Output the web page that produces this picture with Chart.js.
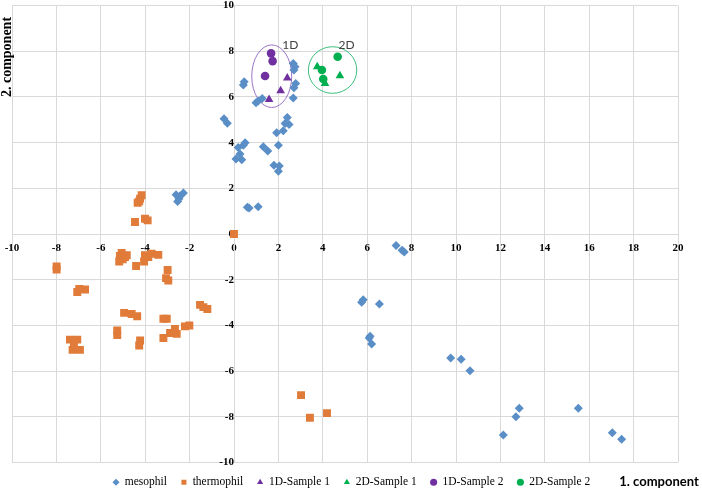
<!DOCTYPE html>
<html>
<head>
<meta charset="utf-8">
<script src="https://cdn.jsdelivr.net/npm/chart.js@4.4.1/dist/chart.umd.min.js"></script>
<style>
  html, body { margin: 0; padding: 0; background: #fff; }
  #wrap { width: 702px; height: 489px; }
</style>
</head>
<body>
<div id="wrap"><canvas id="grafico"></canvas></div>
<script>
// valores (x = 1. component, y = 2. component)
const mesophil = [
  [2.67,7.47],[2.75,7.32],[2.70,7.18],[2.78,6.59],[2.70,6.40],[2.67,5.96],
  [0.46,6.67],[0.42,6.52],[0.99,5.75],[1.09,5.82],[1.27,5.93],
  [2.40,5.10],[2.30,4.84],[2.48,4.79],[2.22,4.52],[1.92,4.43],[2.00,3.89],
  [1.32,3.82],[1.52,3.63],[0.50,4.00],[0.42,3.89],[0.19,3.79],[0.27,3.50],
  [0.09,3.28],[0.35,3.25],[1.80,3.01],[2.04,2.98],[2.00,2.75],
  [0.60,1.17],[0.68,1.14],[1.09,1.20],[-0.45,5.05],[-0.30,4.85],
  [-2.61,1.72],[-2.43,1.67],[-2.28,1.80],[-2.54,1.43],[-2.48,1.55],
  [7.30,-0.50],[7.57,-0.71],[7.67,-0.79],[5.82,-2.88],[5.75,-2.98],[6.55,-3.06],
  [6.13,-4.47],[6.09,-4.55],[6.20,-4.81],[9.76,-5.43],[10.23,-5.48],[10.63,-5.98],
  [12.85,-7.62],[12.70,-8.00],[12.13,-8.80],[15.51,-7.62],[17.04,-8.70],[17.46,-8.98]
];
const thermophil = [
  [-4.16,1.70],[-4.23,1.55],[-4.34,1.37],[-4.27,1.43],[-4.46,0.53],[-4.01,0.67],[-3.89,0.60],
  [0.00,0.00],[-7.99,-1.42],[-7.99,-1.55],[-6.97,-2.40],[-7.06,-2.54],[-6.71,-2.43],
  [-5.06,-0.83],[-5.14,-0.96],[-4.91,-1.01],[-5.17,-1.20],[-5.01,-1.11],[-4.83,-0.93],
  [-4.41,-1.40],[-4.01,-0.93],[-4.05,-1.20],[-3.71,-0.86],[-3.41,-0.91],[-3.86,-1.01],
  [-2.99,-1.57],[-3.06,-1.93],[-2.96,-2.03],[-1.53,-3.10],[-1.38,-3.20],[-1.20,-3.28],
  [-4.95,-3.45],[-4.61,-3.50],[-4.36,-3.60],[-3.18,-3.71],[-3.03,-3.71],
  [-2.21,-4.04],[-2.01,-4.00],[-2.66,-4.15],[-2.88,-4.33],[-2.58,-4.37],[-3.18,-4.55],
  [-5.26,-4.22],[-5.26,-4.42],[-4.23,-4.66],[-4.27,-4.88],
  [-7.39,-4.62],[-7.06,-4.62],[-7.21,-4.86],[-7.27,-5.07],[-6.94,-5.07],
  [3.02,-7.05],[3.42,-8.04],[4.19,-7.84]
];
const sample1D1 = [[1.58,5.89],[2.10,6.27],[2.40,6.83]];
const sample2D1 = [[3.75,7.32],[4.10,6.59],[4.77,6.93]];
const sample1D2 = [[1.67,7.91],[1.74,7.57],[1.40,6.92]];
const sample2D2 = [[3.96,7.18],[4.02,6.79],[4.67,7.76]];

const seriesNames = ['mesophil','thermophil','1D-Sample 1','2D-Sample 1','1D-Sample 2','2D-Sample 2'];
const xRange = [-10, 20];
const yRange = [-10, 10];
const tickStep = 2;

// elipses alrededor de las muestras (centro y radios en unidades de datos)
const elipses = [
  { label: '1D', cx: 1.70, cy: 6.91, rx: 0.90, ry: 1.37, lx: 2.54, ly: 8.29, color: '#9a74c4' },
  { label: '2D', cx: 4.44, cy: 7.18, rx: 1.09, ry: 1.02, lx: 5.07, ly: 8.29, color: '#3dbd7d' }
];

const toPts = arr => arr.map(p => ({ x: p[0], y: p[1] }));

// los ejes van cruzados en el origen, no necesitan margen propio
const sinMargen = scale => {
  scale.paddingTop = 0; scale.paddingBottom = 0;
  scale.paddingLeft = 0; scale.paddingRight = 0;
};

const extras = {
  id: 'extras',
  afterLayout(chart) {
    // leyenda un poco corrida a la derecha, como en el original
    chart.legend.left = 99;
  },
  beforeDatasetsDraw(chart) {
    const { ctx, scales: { x, y } } = chart;
    elipses.forEach(e => {
      const cx = x.getPixelForValue(e.cx), cy = y.getPixelForValue(e.cy);
      const rx = Math.abs(x.getPixelForValue(e.cx + e.rx) - cx);
      const ry = Math.abs(y.getPixelForValue(e.cy + e.ry) - cy);
      ctx.save();
      ctx.beginPath();
      ctx.ellipse(cx, cy, rx, ry, 0, 0, 2 * Math.PI);
      ctx.strokeStyle = e.color;
      ctx.lineWidth = 1;
      ctx.stroke();
      ctx.font = '12px Lato';
      ctx.fillStyle = '#404040';
      ctx.textAlign = 'center';
      ctx.textBaseline = 'middle';
      ctx.fillText(e.label, x.getPixelForValue(e.lx), y.getPixelForValue(e.ly));
      ctx.restore();
    });
  },
  afterDraw(chart) {
    const ctx = chart.ctx;
    ctx.save();
    ctx.fillStyle = '#000';
    ctx.textBaseline = 'middle';
    ctx.textAlign = 'center';
    ctx.font = 'bold 13px Lato';
    ctx.fillText('1. component', 659, 482);
    ctx.translate(7, 57);
    ctx.rotate(-Math.PI / 2);
    ctx.font = 'bold 14px "Liberation Serif"';
    ctx.fillText('2. component', 0, 0);
    ctx.restore();
  }
};

const estilos = [
  { color: '#5a8ec6', pointStyle: 'rectRot', radius: 4.5 },
  { color: '#e07b39', pointStyle: 'rect', radius: 5.6 },
  { color: '#7030a0', pointStyle: 'triangle', radius: 5 },
  { color: '#00b050', pointStyle: 'triangle', radius: 5 },
  { color: '#7030a0', pointStyle: 'circle', radius: 4.3 },
  { color: '#00b050', pointStyle: 'circle', radius: 4.3 }
];
const valores = [mesophil, thermophil, sample1D1, sample2D1, sample1D2, sample2D2];

Chart.defaults.font.family = '"Liberation Serif", serif';
Chart.defaults.color = '#000';

const ctx = document.getElementById('grafico');
new Chart(ctx, {
  type: 'scatter',
  data: {
    datasets: valores.map((v, i) => ({
      label: seriesNames[i],
      data: toPts(v),
      backgroundColor: estilos[i].color,
      borderColor: estilos[i].color,
      borderWidth: 0,
      pointStyle: estilos[i].pointStyle,
      pointRadius: estilos[i].radius,
      pointHoverRadius: estilos[i].radius
    }))
  },
  options: {
    responsive: true,
    maintainAspectRatio: false,
    animation: false,
    layout: { padding: { left: 12, right: 24, top: 5, bottom: -9 } },
    scales: {
      x: {
        type: 'linear',
        min: xRange[0], max: xRange[1],
        position: { y: 0 },
        afterFit: sinMargen,
        grid: { color: '#d9d9d9', drawTicks: false },
        border: { color: '#d9d9d9' },
        ticks: { stepSize: tickStep, padding: 8, font: { size: 11, weight: 'bold' } }
      },
      y: {
        type: 'linear',
        min: yRange[0], max: yRange[1],
        position: { x: 0 },
        afterFit: sinMargen,
        grid: { color: '#d9d9d9', drawTicks: false },
        border: { color: '#d9d9d9' },
        ticks: { stepSize: tickStep, padding: 10, font: { size: 11, weight: 'bold' } }
      }
    },
    plugins: {
      tooltip: { enabled: false },
      legend: {
        position: 'bottom',
        align: 'start',
        labels: {
          usePointStyle: true,
          boxWidth: 6,
          boxHeight: 5,
          padding: 14,
          color: '#000',
          font: { size: 11.5 }
        }
      }
    }
  },
  plugins: [extras]
});
</script>
</body>
</html>
